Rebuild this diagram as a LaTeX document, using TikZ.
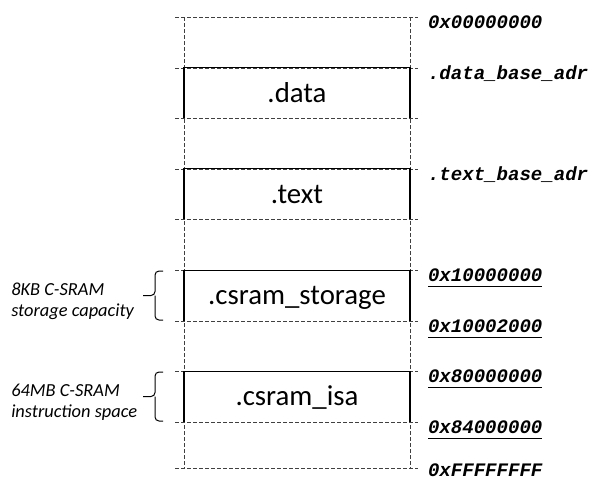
\documentclass[tikz,border=0pt]{standalone}
\usepackage{fontspec}
\usepackage{tikz}
\newfontfamily\calibri{Carlito}
\newfontfamily\courier{Liberation Mono}
\tikzstyle{segment}=[minimum width=169.5pt, minimum height=37.9pt, inner sep=0pt, outer sep=0pt, text height=15pt, text depth=1.5pt, font=\calibri\fontsize{21.6}{26}\selectfont]
\tikzstyle{edge}=[draw=black, line width=0.8pt]
\tikzstyle{bound}=[draw=black!75, line width=0.75pt, dash pattern=on 3pt off 1.5pt]
\tikzstyle{addr}=[anchor=base west, inner sep=0pt, outer sep=0pt, text depth=4.2pt, font=\courier\bfseries\itshape\fontsize{14.3}{16}\selectfont]
\tikzstyle{uline}=[draw=black, line width=1.1pt]
\tikzstyle{note}=[anchor=base west, inner sep=0pt, font=\calibri\itshape\fontsize{13.8}{16}\selectfont]
\tikzstyle{curly}=[draw=black, line width=0.75pt, rounded corners=3pt]

\begin{document}
\begin{tikzpicture}[x=0.75pt, y=-0.75pt]
		   \useasboundingbox (0, 0) rectangle (592, 479);
		   \begin{scope}
			   \node (data) at (297, 93) [segment] {.data};
			   \node (text) at (297, 194) [segment] {.text};
			   \node (storage) at (297, 295.5) [segment] {.csram\_storage};
			   \node (isa) at (297, 396.5) [segment] {.csram\_isa};

			   \node (a0) at (428, 28) [addr] {0x00000000};
			   \node (a1) at (428, 79) [addr] {.data\_base\_adr};
			   \node (a2) at (428, 180) [addr] {.text\_base\_adr};
			   \node (a3) at (428, 281) [addr] {0x10000000};
			   \node (a4) at (428, 332) [addr] {0x10002000};
			   \node (a5) at (428, 382) [addr] {0x80000000};
			   \node (a6) at (428, 433) [addr] {0x84000000};
			   \node (a7) at (428, 476.5) [addr] {0xFFFFFFFF};

			   \node (n1) at (11, 295) [note] {8KB C-SRAM};
			   \node (n2) at (11, 316) [note] {storage capacity};
			   \node (n3) at (11, 396) [note] {64MB C-SRAM};
			   \node (n4) at (11, 417) [note] {instruction space};

			   \coordinate (top) at (184, 17);
			   \coordinate (bot) at (410, 468);
			   \coordinate (b1) at (155, 295.5);
			   \coordinate (b2) at (155, 396.5);
		   \end{scope}
		   \begin{scope}
			   % outer frame
			   \path [bound] (top) -- (top |- bot);
			   \path [bound] (top -| bot) -- (bot);

			   % boundaries
			   \path [bound] (175, 17) -- (418, 17);
			   \path [bound] (175, 68) -- (418, 68);
			   \path [bound] (175, 118) -- (418, 118);
			   \path [bound] (175, 169) -- (418, 169);
			   \path [bound] (175, 219) -- (418, 219);
			   \path [bound] (175, 270) -- (418, 270);
			   \path [bound] (175, 321) -- (418, 321);
			   \path [bound] (175, 371) -- (418, 371);
			   \path [bound] (175, 422) -- (418, 422);
			   \path [bound] (175, 468) -- (418, 468);

			   % segments
			   \path [edge] (data.south west) -- (data.north west) -- (data.north east) -- (data.south east);
			   \path [edge] (text.south west) -- (text.north west) -- (text.north east) -- (text.south east);
			   \path [edge] (storage.south west) -- (storage.north west) -- (storage.north east) -- (storage.south east);
			   \path [edge] (isa.south west) -- (isa.north west) -- (isa.north east) -- (isa.south east);

			   \path [uline] (a3.south west) -- (a3.south east);
			   \path [uline] (a4.south west) -- (a4.south east);
			   \path [uline] (a5.south west) -- (a5.south east);
			   \path [uline] (a6.south west) -- (a6.south east);

			   % braces
			   \path [curly] (163, 271) -- (155, 271) -- (b1) -- (143, 295.5);
			   \path [curly] (b1) -- (155, 320) -- (163, 320);
			   \path [curly] (163, 372) -- (155, 372) -- (b2) -- (143, 396.5);
			   \path [curly] (b2) -- (155, 421) -- (163, 421);
		   \end{scope}
	   \end{tikzpicture}
\end{document}
